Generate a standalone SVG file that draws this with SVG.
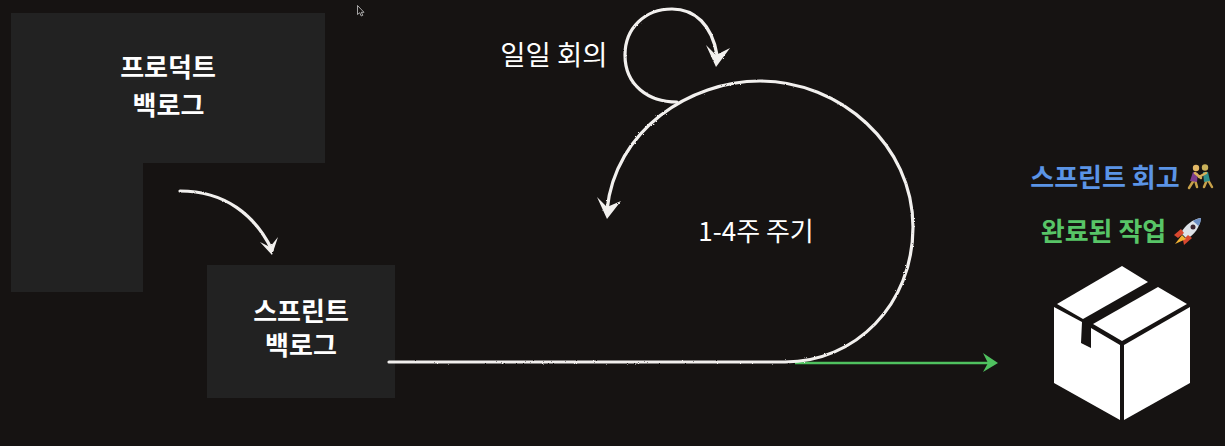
<svg xmlns="http://www.w3.org/2000/svg" width="1225" height="446" viewBox="0 0 1225 446">
<defs>
<filter id="chalk" x="-5%" y="-5%" width="110%" height="110%" color-interpolation-filters="sRGB">
<feTurbulence type="fractalNoise" baseFrequency="0.9" numOctaves="2" seed="3" result="n"/>
<feDisplacementMap in="SourceGraphic" in2="n" scale="2"/>
</filter>
</defs>
<style>
text{font-family:"Noto Sans CJK KR","Liberation Sans",sans-serif;text-anchor:middle}
.b{fill:#222222}
.h{font-size:26px;font-weight:700;fill:#fff}
.l{font-weight:400;fill:#fff}
.c{fill:none;stroke:#f2f0ee;stroke-width:3.200;stroke-linecap:round}
.a{fill:#f2f0ee}
.t{font-size:26px;font-weight:700}
.s{fill:none;stroke-width:2.500;stroke-linecap:round;stroke-linejoin:round}
</style>
<rect width="1225" height="446" fill="#161312"/>
<g id="cursor"><path d="M357.500 5.500V14.500L359.700 12.700L361.200 16L362.800 15.300L361.300 12.300H364Z" fill="#161312" stroke="#ccc" stroke-width=".8"/></g>
<g id="product-backlog"><path class="b" d="M11 13H325V163H143V292H11Z"/>
<text class="h" x="168" y="77">프로덕트</text><text class="h" x="168.500" y="115">백로그</text></g>
<g id="sprint-backlog"><rect class="b" x="207" y="265" width="188" height="133"/>
<text class="h" x="301" y="321">스프린트</text><text class="h" x="301" y="355">백로그</text></g>
<g id="daily-label"><text class="l" font-size="27.500" x="554" y="65">일일 회의</text></g>
<g id="cycle-label"><text class="l" font-size="26" x="756" y="241">1-4주 주기</text></g>
<g id="retro"><text class="t" x="1105" y="187" fill="#5b94e6">스프린트 회고</text>
<g id="wrestlers">
<path class="s" stroke="#c9a24a" d="M1194 180L1189 188M1195 180L1197 187M1207 180L1204 187M1208 180L1212 187"/>
<path d="M1193 172L1198 173L1197 182L1190 181Z" fill="#7a3c8c"/>
<path d="M1203 172L1208 172L1210 181L1204 182Z" fill="#2f8f8a"/>
<path class="s" stroke="#d8b05a" d="M1195 173L1201 178M1206 173L1199 177"/>
<circle cx="1196" cy="168" r="3.200" fill="#e2b866"/><circle cx="1205" cy="167.500" r="3.200" fill="#c9b15a"/>
</g></g>
<g id="done"><text class="t" x="1103.500" y="241" fill="#58c567">완료된 작업</text>
<g id="rocket">
<path d="M1201 218C1193 219 1185 225 1181 233L1187 239C1194 235 1200 227 1201 218Z" fill="#dde2e8"/>
<path d="M1201 218C1198 218.500 1195 219.500 1193 221L1198.500 226C1200 224 1201 221 1201 218Z" fill="#6d8fc4"/>
<path d="M1174 235L1181 229L1184 233L1178 238Z" fill="#d9482f"/>
<path d="M1184 245L1192 238L1188 235L1183 240Z" fill="#d9482f"/>
<path d="M1182 235L1186 239L1175 244Z" fill="#f2b233"/>
<circle cx="1193" cy="227" r="2.500" fill="#3a2530"/>
</g></g>
<g id="box" fill="#fff">
<path d="M1122 266L1148 282L1083 319L1057 304Z"/>
<path d="M1158 287L1187 304L1122 341L1093 324Z"/>
<path d="M1054 307L1082 322L1081 343L1091 348V328L1120 345V420L1054 383Z"/>
<path d="M1190 307V383L1124 420V345Z"/>
</g>
<g id="connectors">
<path d="M795 363H990" fill="none" stroke="#4fc15f" stroke-width="2.500"/>
<path d="M998 363L983 353L988 363L983 372Z" fill="#4fc15f"/>
<g filter="url(#chalk)">
<path class="c" d="M389 362H785C855 362 913 305 913 227C913 145 840 81 760 81C690 81 615 130 607 210"/>
<path class="c" d="M677 102C648 102 625 85 625 55C625 28 645 9 672 9C695 9 712 25 717 55"/>
<path class="c" d="M180 191C225 191 255 215 272 250"/>
<path class="a" d="M597 197L607 207L621 201L607 219Z"/>
<path class="a" d="M706 45L716 55L730 48L716 67Z"/>
<path class="a" d="M260 242L270 247L278 237L272 255Z"/>
</g>
</g>
</svg>
